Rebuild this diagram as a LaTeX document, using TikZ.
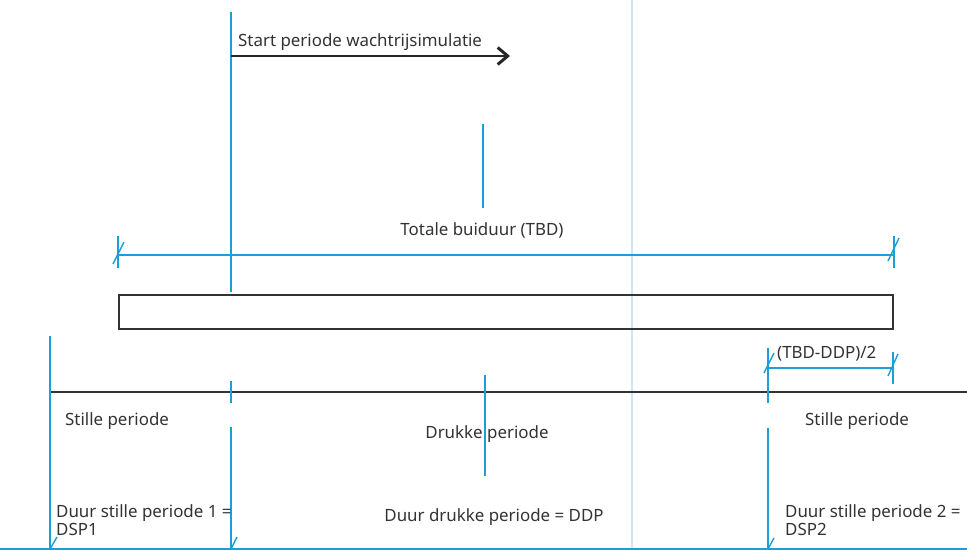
\documentclass[tikz,border=0pt]{standalone}
\usepackage{fontspec}
\setmainfont{Noto Sans}
\usetikzlibrary{arrows.meta}
\definecolor{lnblue}{HTML}{1A9FD9}
\definecolor{paleblue}{HTML}{CDE6F4}
\definecolor{txt}{HTML}{333333}
\begin{document}
\begin{tikzpicture}[x=1pt,y=-1pt,
  bl/.style={draw=lnblue,line width=1.4pt},
  blk/.style={draw=txt,line width=1.8pt},
  lbl/.style={anchor=base west,inner sep=0pt,text=txt,font=\fontsize{16.9}{20}\selectfont},
  lblc/.style={lbl,anchor=base}]
\useasboundingbox (0,0) rectangle (967,550);
% pale reference line
\draw[draw=paleblue,line width=1.4pt] (632,0) -- (632,550);
% coordinates
\coordinate (s1) at (231,12); \coordinate (s2) at (231,292);
\coordinate (a2) at (510,56); \coordinate (a1) at (231,56);
\coordinate (m1) at (483,124); \coordinate (m2) at (483,208);
\coordinate (tl) at (118,255); \coordinate (tr) at (894,255);
% top
\draw[bl] (s1) -- (s2);
\draw[draw=black!85,line width=2pt,-{Straight Barb[length=10pt,width=17pt,line width=3pt]}] (a1) -- (a2);
\node[lbl] (start) at (238,46) {Start periode wachtrijsimulatie};
\draw[bl] (m1) -- (m2);
\node[lblc] (tbd) at (482,235) {Totale buiduur (TBD)};
% TBD dimension
\draw[bl] (tl) -- (tr);
\draw[bl] (118,236) -- (118,268);
\draw[bl] (113,264) -- (124,242);
\draw[bl] (894,236) -- (894,268);
\draw[bl] (888,261) -- (899,238);
% bar
\node[draw=txt,line width=1.8pt,minimum width=774pt,minimum height=34pt,inner sep=0pt,anchor=north west] (bar) at (118,294) {};
% timeline
\coordinate (t0) at (50,392); \coordinate (t1) at (967,392);
\draw[blk] (t0) -- (t1);
\draw[bl] (50,336) -- (50,549);
\draw[bl] (231,381) -- (231,403);
\draw[bl] (231,427) -- (231,549);
\draw[bl] (485,375) -- (485,476);
\draw[bl] (768,348) -- (768,403);
\draw[bl] (768,428) -- (768,549);
% (TBD-DDP)/2 dimension
\draw[bl] (768,368) -- (893,368);
\draw[bl] (764,373) -- (774,353);
\draw[bl] (893,352) -- (893,384);
\draw[bl] (888,376) -- (898,354);
\node[lbl] (half) at (777,358) {(TBD-DDP)/2};
% bottom line
\draw[bl] (0,549) -- (967,549);
\draw[bl] (50,549) -- (57,537);
\draw[bl] (231,549) -- (237,537);
\draw[bl] (768,549) -- (774,538);
% labels
\node[lbl] (st1) at (65,425) {Stille periode};
\node[lbl] (st2) at (805,425) {Stille periode};
\node[lblc] (dr) at (487,438) {Drukke periode};
\node[lbl] (d1a) at (56,517) {Duur stille periode 1 =};
\node[lbl] (d1b) at (56,535) {DSP1};
\node[lblc] (ddp) at (494,521) {Duur drukke periode = DDP};
\node[lbl] (d2a) at (785,517) {Duur stille periode 2 =};
\node[lbl] (d2b) at (785,535) {DSP2};
\end{tikzpicture}
\end{document}
